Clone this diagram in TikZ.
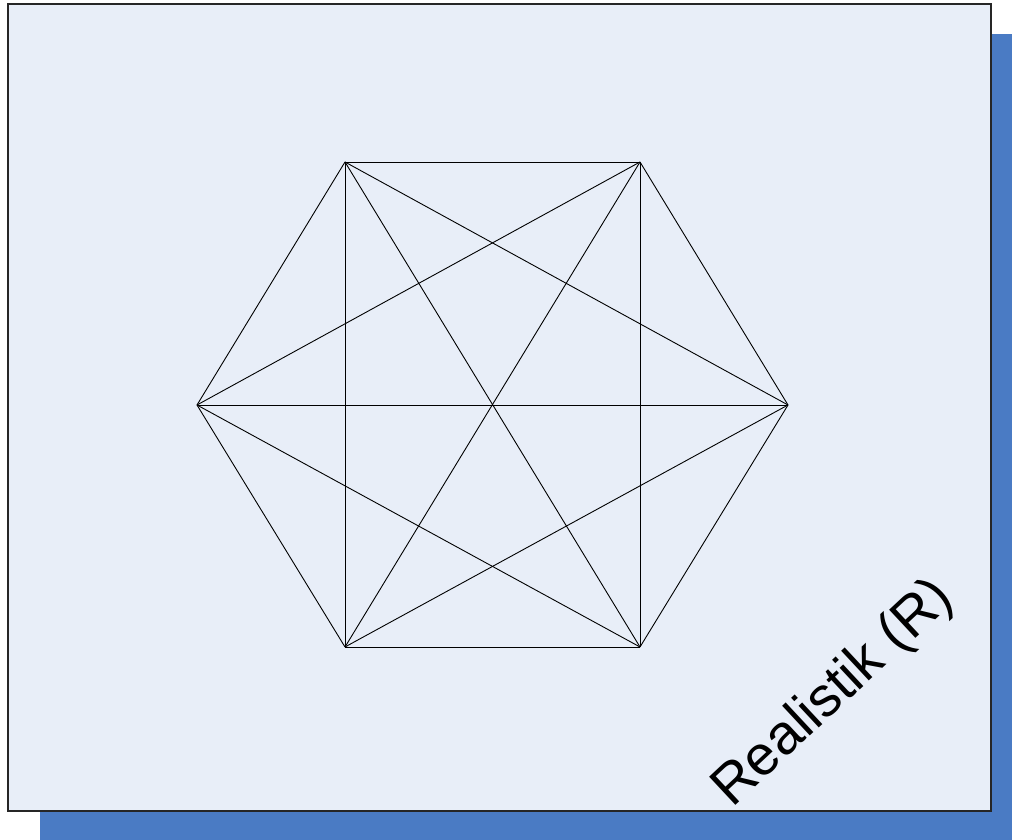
\documentclass[tikz,border=0pt]{standalone}
\usepackage{fontspec}
\setmainfont{Liberation Sans}
\definecolor{panel}{HTML}{E8EEF8}
\definecolor{backblue}{HTML}{4A7BC4}

\begin{document}
\begin{tikzpicture}[x=0.5pt,y=0.5pt,
  edge/.style={draw=black,line width=0.45pt},
  lbl/.style={font=\fontsize{28}{32}\selectfont,anchor=base west,inner sep=0pt}]
\useasboundingbox (0,0) rectangle (1012,840);
\fill[backblue] (40,0) rectangle (1012,806);
\draw[fill=panel,draw=black!85,line width=0.6pt] (8,29) rectangle (991,836);
\coordinate (v1) at (345,678);
\coordinate (v2) at (640,678);
\coordinate (v3) at (788,435);
\coordinate (v4) at (640,193);
\coordinate (v5) at (345,193);
\coordinate (v6) at (197,435);
\foreach \i in {1,...,6} \foreach \j in {1,...,6} {\ifnum\i<\j \draw[edge] (v\i) -- (v\j);\fi}
\node[lbl,rotate=43] (title) at (732,31) {Realistik (R)};
\end{tikzpicture}
\end{document}
